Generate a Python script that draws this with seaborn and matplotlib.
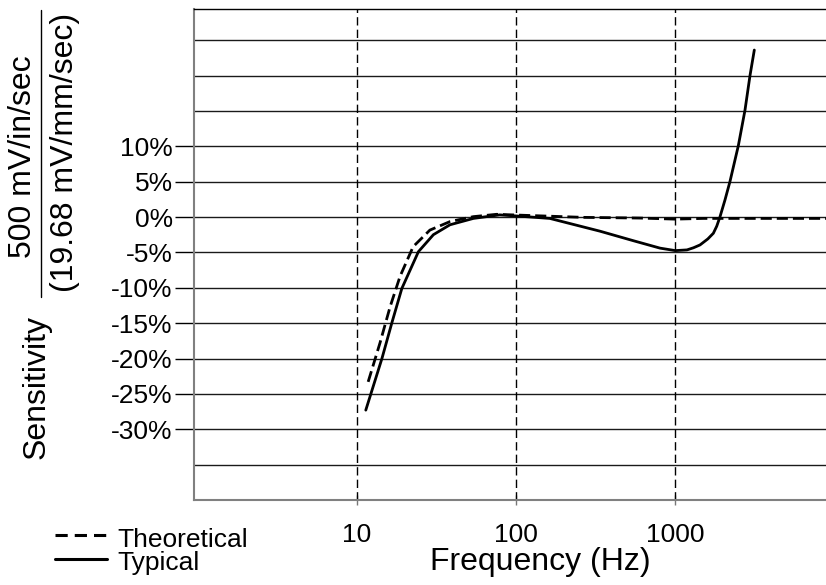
import matplotlib
matplotlib.use("Agg")
import matplotlib.pyplot as plt
import numpy as np
import pandas as pd
import seaborn as sns
from matplotlib.lines import Line2D
from matplotlib.ticker import FixedLocator, NullLocator

sns.set_theme(style="ticks")
plt.rcParams["font.family"] = ["Liberation Sans", "DejaVu Sans"]
plt.rcParams["text.color"] = "black"

# data
typical_freq = [11.4, 14.4, 16.6, 19.2, 24.4, 30.3, 38.5, 54, 79, 100, 163, 234, 336,
                545, 802, 1000, 1184, 1300, 1429, 1600, 1733, 1820, 1906, 2050, 2203,
                2488, 2738, 2944, 3133]
typical_sens = [-27.3, -20.0, -15.0, -10.1, -4.9, -2.5, -1.1, -0.2, 0.3, 0.15, -0.2, -1.1, -2.0,
                -3.35, -4.4, -4.75, -4.65, -4.35, -3.95, -3.1, -2.3, -1.3, 0.0, 2.4, 5.0,
                10.1, 15.1, 20.0, 23.6]

theo_freq = [11.8, 14.0, 16.2, 18.7, 22.6, 28.8, 38.5, 54, 75.5, 100, 263, 600, 1000, 1500, 8830]
theo_sens = [-23.3, -17.8, -12.7, -8.4, -4.2, -1.85, -0.65, 0.05, 0.38, 0.28, -0.05, -0.15, -0.3, -0.2, -0.2]

x_ticks = [10, 100, 1000]
x_tick_labels = ["10", "100", "1000"]
y_ticks = [10, 5, 0, -5, -10, -15, -20, -25, -30]
y_tick_labels = ["10%", "5%", "0%", "-5%", "-10%", "-15%", "-20%", "-25%", "-30%"]
y_grid = [25, 20, 15, 10, 5, 0, -5, -10, -15, -20, -25, -30, -35]
legend_labels = ["Theoretical", "Typical"]

W, H = 826, 585
fig = plt.figure(figsize=(W / 100, H / 100), dpi=100)
ax = fig.add_axes([194.3 / W, 1 - 500 / H, (W - 194.3) / W, 491 / H])

for y in y_grid:
    ax.axhline(y, color="#1a1a1a", lw=1.0, zorder=1)
for x in x_ticks:
    ax.axvline(x, color="black", lw=1.0, dashes=(6, 3), zorder=1)

typ_df = pd.DataFrame({"freq": typical_freq, "sens": typical_sens})
theo_df = pd.DataFrame({"freq": theo_freq, "sens": theo_sens})
sns.lineplot(data=theo_df, x="freq", y="sens", ax=ax, sort=False, estimator=None,
             color="black", lw=2.0, zorder=3)
ax.lines[-1].set_dashes((4.0, 1.8))
sns.lineplot(data=typ_df, x="freq", y="sens", ax=ax, sort=False, estimator=None,
             color="black", lw=2.0, zorder=4)

ax.set_xscale("log")
ax.set_xlim(0.956, 8831)
ax.set_ylim(-40, 29.4)
ax.xaxis.set_major_locator(FixedLocator(x_ticks))
ax.xaxis.set_minor_locator(NullLocator())
ax.set_xticklabels(x_tick_labels)
ax.set_yticks(y_ticks)
ax.set_yticklabels(y_tick_labels)
ax.yaxis.set_minor_locator(NullLocator())
ax.tick_params(axis="x", direction="inout", length=7, width=1, color="#777777",
               labelsize=19, labelcolor="black", pad=13)
ax.tick_params(axis="y", direction="out", length=14, width=1, color="black",
               labelsize=19, labelcolor="black", pad=1.5)
ax.set_xlabel("")
ax.set_ylabel("")

for side in ["left", "bottom"]:
    ax.spines[side].set_color("#808080")
    ax.spines[side].set_linewidth(1.5)
ax.spines["top"].set_color("black")
ax.spines["top"].set_linewidth(1.0)
ax.spines["right"].set_visible(False)

# axis labels
fig.text(540 / W, 1 - 562 / H, "Frequency (Hz)", fontsize=23, ha="center", va="center")
fig.text(37 / W, 1 - 387 / H, "Sensitivity", fontsize=23, rotation=90, ha="center", va="center")
fig.text(23 / W, 1 - 157 / H, "500 mV/in/sec", fontsize=23, rotation=90, ha="center", va="center")
fig.text(65 / W, 1 - 152 / H, "(19.68 mV/mm/sec)", fontsize=23, rotation=90, ha="center", va="center")
fig.add_artist(Line2D([41 / W, 41 / W], [1 - 10 / H, 1 - 297 / H], color="black", lw=1.0,
                      transform=fig.transFigure))

# legend drawn by hand at the lower left
fig.add_artist(Line2D([55 / W, 107 / W], [1 - 535 / H, 1 - 535 / H], color="black", lw=2.2,
                      dashes=(4.0, 2.3), transform=fig.transFigure))
fig.add_artist(Line2D([55 / W, 107 / W], [1 - 559 / H, 1 - 559 / H], color="black", lw=2.2,
                      transform=fig.transFigure))
fig.text(117 / W, 1 - 547 / H, legend_labels[0], fontsize=19, ha="left", va="baseline")
fig.text(117 / W, 1 - 570 / H, legend_labels[1], fontsize=19, ha="left", va="baseline")

fig.savefig("out.png", dpi=100)
